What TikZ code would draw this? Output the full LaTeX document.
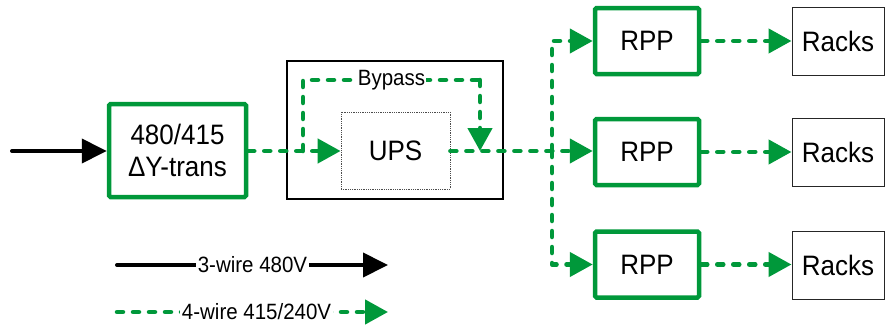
\documentclass[tikz,border=0pt]{standalone}
\usepackage{fontspec}
\setmainfont{Liberation Sans}
\usetikzlibrary{arrows.meta}
\definecolor{pgreen}{RGB}{0,152,58}
\tikzset{
  big/.style={font=\fontsize{26}{31}\selectfont},
  small/.style={font=\fontsize{20.5}{24}\selectfont},
  gbox/.style={draw=pgreen, line width=4.5pt, rounded corners=1.5pt, big, align=center, inner sep=0pt},
  tbox/.style={draw=black!85, line width=1pt, big, inner sep=0pt},
  gline/.style={draw=pgreen, line width=4.5pt, line cap=round, line join=round, dash pattern=on 6pt off 10pt},
  garrow/.style={gline, -{Triangle[length=23pt,width=24pt]}},
  barrow/.style={draw=black, line width=4pt, line cap=round, -{Triangle[length=25pt,width=24pt]}},
}
\begin{document}
\begin{tikzpicture}[x=1pt,y=-1pt]
\useasboundingbox (0,0) rectangle (885,324);
% main boxes
\node[gbox, minimum width=137pt, minimum height=93pt] (tr) at (177.5,150.5) {\scalebox{1}[1.08]{480/415}\\[1pt]\scalebox{1}[1.08]{ΔY-trans}};
\node[draw=black, line width=1.5pt, minimum width=216pt, minimum height=138pt] (upsbox) at (395,130) {};
\node[draw=black!70, densely dotted, line width=0.8pt, minimum width=109pt, minimum height=77pt, big] (ups) at (395.5,150.5) {\scalebox{1}[1.08]{UPS}};
\node[gbox, minimum width=104pt, minimum height=66pt] (rpp1) at (647,41) {\scalebox{1}[1.08]{RPP}};
\node[gbox, minimum width=104pt, minimum height=66pt] (rpp2) at (647,152) {\scalebox{1}[1.08]{RPP}};
\node[gbox, minimum width=104pt, minimum height=66pt] (rpp3) at (647,264.5) {\scalebox{1}[1.08]{RPP}};
\node[tbox, minimum width=92pt, minimum height=68pt] (rk1) at (838,41) {\scalebox{1}[1.08]{Racks}};
\node[tbox, minimum width=92pt, minimum height=68pt] (rk2) at (838,152.5) {\scalebox{1}[1.08]{Racks}};
\node[tbox, minimum width=92pt, minimum height=68pt] (rk3) at (838,265) {\scalebox{1}[1.08]{Racks}};
% input
\coordinate (in) at (12,151);
\draw[barrow] (in) -- (tr.west |- in);
% main line
\coordinate (bpA) at (303,151);
\coordinate (bpC1) at (303,80);
\coordinate (bpC2) at (480,80);
\coordinate (bpB) at (480,151);
\coordinate (bus) at (552,151);
\draw[garrow] (tr.east |- bpA) -- (ups.west |- bpA);
\draw[gline] (bpA) -- (bpC1) -- node[midway, fill=white, small, inner sep=1pt, text=black] (byp) {\scalebox{1}[1.08]{Bypass}} (bpC2);
\draw[garrow] (bpC2) -- (bpB);
\draw[garrow] (ups.east |- bus) -- (rpp2.west |- bus);
\draw[garrow] (bus) |- (rpp1.west);
\draw[garrow] (bus) |- (rpp3.west);
\draw[garrow] (rpp1.east) -- (rk1.west);
\draw[garrow] (rpp2.east) -- (rk2.west |- rpp2.east);
\draw[garrow] (rpp3.east) -- (rk3.west |- rpp3.east);
% legend
\coordinate (l1s) at (117,265);
\coordinate (l1e) at (388,265);
\coordinate (l2s) at (117,312);
\coordinate (l2e) at (388,312);
\draw[barrow] (l1s) -- node[pos=0.5, fill=white, small, inner sep=1.5pt] (lg1) {\scalebox{1}[1.08]{3-wire 480V}} (l1e);
\draw[garrow] (l2s) -- node[pos=0.515, fill=white, small, inner sep=1.5pt] (lg2) {\scalebox{1}[1.08]{4-wire 415/240V}} (l2e);
\end{tikzpicture}
\end{document}
